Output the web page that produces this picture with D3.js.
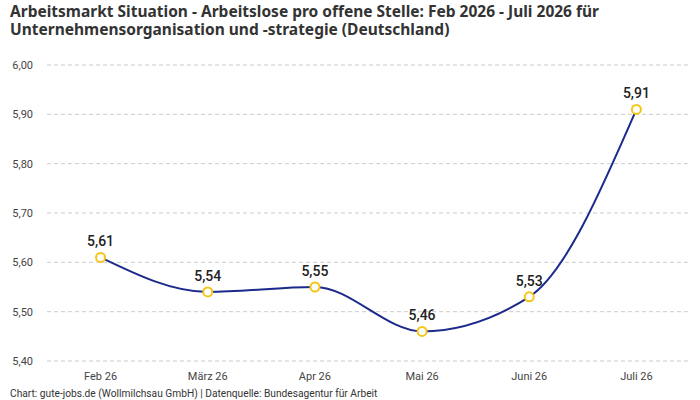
<!DOCTYPE html>
<html><head><meta charset="utf-8">
<script src="https://cdn.jsdelivr.net/npm/d3@7"></script>
<style>body{margin:0;background:#fff;font-family:Roboto,"Noto Sans",sans-serif}</style>
</head><body><svg width="700" height="400"></svg>
<script>
const categories=["Feb 26","März 26","Apr 26","Mai 26","Juni 26","Juli 26"];
const values=[5.61,5.54,5.55,5.46,5.53,5.91];
const yTicks=[5.40,5.50,5.60,5.70,5.80,5.90,6.00];
const svg=d3.select("svg");
const x=d3.scaleBand().domain(categories).range([47,690]);
const y=d3.scaleLinear().domain([5.4,6.0]).range([361,65]);
const fmt=v=>v.toFixed(2).replace(".",",");
const tf="'Noto Sans',sans-serif";
svg.append("text").attr("x",10).attr("y",17).attr("font-family",tf).attr("font-size",15.5).attr("font-weight","bold").attr("fill","#333").text("Arbeitsmarkt Situation - Arbeitslose pro offene Stelle: Feb 2026 - Juli 2026 für");
svg.append("text").attr("x",10).attr("y",35).attr("font-family",tf).attr("font-size",15.5).attr("font-weight","bold").attr("fill","#333").text("Unternehmensorganisation und -strategie (Deutschland)");
svg.append("g").selectAll("line").data(yTicks).join("line").attr("x1",47).attr("x2",690).attr("y1",d=>y(d)).attr("y2",d=>y(d)).attr("stroke","#ccc").attr("stroke-dasharray","4,3");
svg.append("g").selectAll("text").data(yTicks).join("text").attr("x",33).attr("y",d=>y(d)+4).attr("text-anchor","end").attr("font-size",11).attr("fill","#444").text(fmt);
svg.append("g").selectAll("text").data(categories).join("text").attr("x",d=>x(d)+x.bandwidth()/2).attr("y",380).attr("text-anchor","middle").attr("font-size",11).attr("fill","#444").text(d=>d);
const cx=(d,i)=>x(categories[i])+x.bandwidth()/2;
const line=d3.line().x(cx).y(d=>y(d)).curve(d3.curveMonotoneX);
svg.append("path").attr("d",line(values)).attr("fill","none").attr("stroke","#1b2a8c").attr("stroke-width",2);
svg.append("g").selectAll("circle").data(values).join("circle").attr("cx",cx).attr("cy",d=>y(d)).attr("r",4.5).attr("fill","#fff").attr("stroke","#f5c518").attr("stroke-width",2);
svg.append("g").selectAll("text").data(values).join("text").attr("x",cx).attr("y",d=>y(d)-11).attr("text-anchor","middle").attr("font-size",14).attr("font-weight",500).attr("fill","#222").text(fmt);
svg.append("text").attr("x",10).attr("y",397).attr("font-size",10.2).attr("fill","#333").text("Chart: gute-jobs.de (Wollmilchsau GmbH) | Datenquelle: Bundesagentur für Arbeit");
</script></body></html>
